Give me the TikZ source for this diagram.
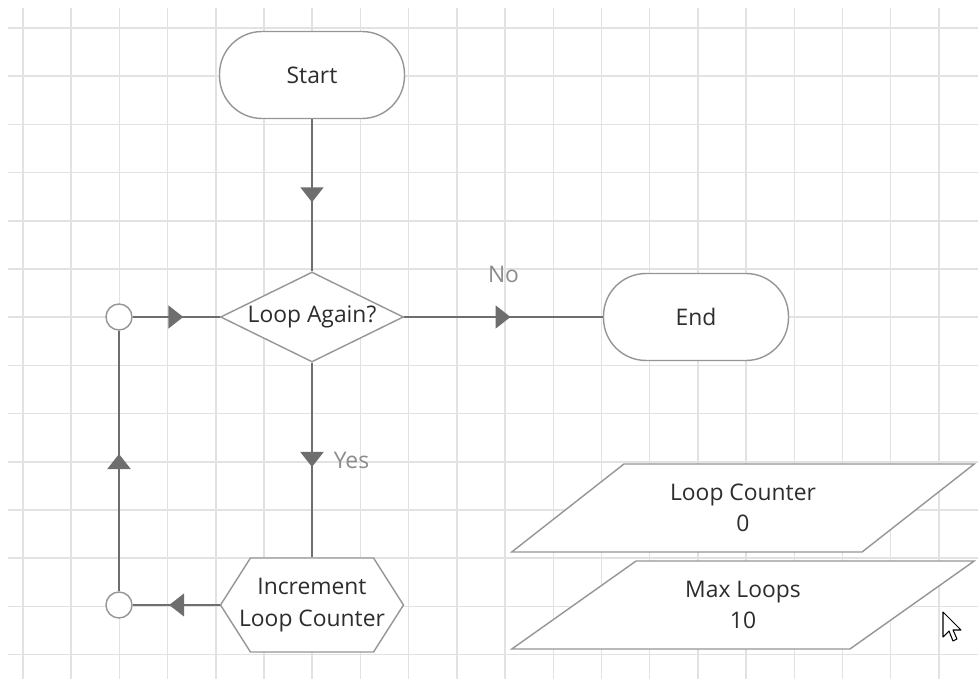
\documentclass[tikz,border=0pt]{standalone}
\usepackage{fontspec}
\setmainfont{Open Sans}
\usetikzlibrary{positioning,shapes.geometric,shapes.symbols,arrows.meta,decorations.markings}

\definecolor{gridgray}{RGB}{226,226,226}
\definecolor{shapegray}{RGB}{150,150,150}
\definecolor{linegray}{RGB}{110,110,110}
\definecolor{textgray}{RGB}{45,45,45}
\definecolor{labelgray}{RGB}{140,140,140}

\begin{document}
\begin{tikzpicture}
	[   x=0.02cm, y=-0.02cm,
	    font=\fontsize{13}{18}\selectfont, text=textgray,
	    term/.style={draw=shapegray,fill=white,line width=0.8pt,rounded corners=0.85cm,minimum width=3.7cm,minimum height=1.74cm},
	    decide/.style={draw=shapegray,fill=white,line width=0.8pt,diamond,inner sep=0pt,minimum width=3.66cm,minimum height=1.8cm},
	    prep/.style={draw=shapegray,fill=white,line width=0.8pt,signal,signal to=west and east,signal pointer angle=115,inner sep=0pt,minimum width=3.66cm,minimum height=1.88cm},
	    data/.style={draw=shapegray,fill=white,line width=0.8pt,trapezium,trapezium left angle=39,trapezium right angle=141,trapezium stretches=true,minimum width=9.26cm,minimum height=1.76cm,align=center},
	    cnode/.style={draw=shapegray,fill=white,line width=0.8pt,circle,inner sep=0pt,minimum size=0.52cm},
	]
	\tikzset{mid arrow/.style={draw=linegray,line width=1.1pt,postaction={decorate},
	    decoration={markings,mark=at position 0.5 with {\arrow[xshift=0.14cm]{Triangle[width=0.46cm,length=0.3cm]}}}}}
	\useasboundingbox (0,0) rectangle (978,679);
	\fill[white] (0,0) rectangle (978,679);
	
	% grid
	\foreach \x in {0,...,19}
	    \draw[gridgray,line width=0.8pt] ({23+48.2*\x},8) -- ({23+48.2*\x},679);
	\foreach \y in {0,...,13}
	    \draw[gridgray,line width=0.8pt] (8,{28+48.2*\y}) -- (978,{28+48.2*\y});
	
	\node[term] (start) at (312,75) {Start};
	\node[decide,label={center:{Loop Again?}}] (loop) at (312,317) {};
	\node[term] (end) at (696,317) {End};
	\node[prep,label={[align=center]center:{Increment\\Loop Counter}}] (inc) at (312,605) {};
	
	\node[cnode] (c-1) at (119,317) {};
	\node[cnode] (c-2) at (119,605) {};
	
	\node[data] (p-1) at (743,508) {Loop Counter\\0};
	\node[data] (p-2) at (743,605) {Max Loops\\10};
	
	\path[mid arrow] (start) -- (loop);
	\path[mid arrow] (loop) -- node[pos=0.5,above=0.54cm,text=labelgray] {No} (end);
	\path[mid arrow] (loop) -- node[pos=0.5,right=0.3cm,text=labelgray] {Yes} (inc);
	\path[mid arrow] (inc) -- (c-2);
	\path[mid arrow] (c-2) -- (c-1);
	\path[mid arrow] (c-1) -- (loop);
	
	% pointer
	\draw[black,fill=white,line width=0.6pt,line join=round]
	    (943,612) -- (943,637) -- (949,631) -- (953,641) -- (957,639) -- (953,630) -- (961,630) -- cycle;
\end{tikzpicture}
\end{document}
